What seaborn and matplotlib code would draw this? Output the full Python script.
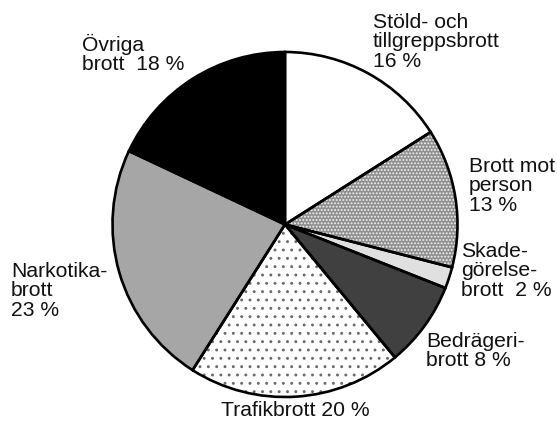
import matplotlib
matplotlib.use("Agg")
import matplotlib.pyplot as plt
from matplotlib.patches import Wedge
import seaborn as sns

# ---- data ----
categories = ["Stöld- och tillgreppsbrott", "Brott mot person", "Skadegörelsebrott",
              "Bedrägeribrott", "Trafikbrott", "Narkotikabrott", "Övriga brott"]
shares = [16, 13, 2, 8, 20, 23, 18]
labels = ["Stöld- och\ntillgreppsbrott\n16 %", "Brott mot\nperson\n13 %",
          "Skade-\ngörelse-\nbrott  2 %", "Bedrägeri-\nbrott 8 %",
          "Trafikbrott 20 %", "Narkotika-\nbrott\n23 %", "Övriga\nbrott  18 %"]

# ---- style ----
fill_colors = ["#ffffff", "#8f8f8f", "#e0e0e0", "#404040", "#ffffff", "#a6a6a6", "#000000"]
hatches = [None, ".....", None, None, "..", None, None]
hatch_colors = [None, "#f4f4f4", None, None, "#6a6a6a", None, None]
label_pos = [(373, 13), (469, 157), (461, 242), (426, 332), (221, 401), (11, 262), (82, 34)]

sns.set_theme(style="white")
plt.rcParams["font.family"] = ["Liberation Sans", "DejaVu Sans"]
plt.rcParams["hatch.linewidth"] = 0.9

W, H = 557, 421
fig = plt.figure(figsize=(W / 100, H / 100), dpi=100)
ax = fig.add_axes([0, 0, 1, 1])

cx, cy, r = 285, H - 224.5, 172.5
wedges, _ = ax.pie(shares, colors=fill_colors, startangle=90, counterclock=False,
                   center=(cx, cy), radius=r,
                   wedgeprops=dict(edgecolor="black", linewidth=0))

for w, hz, hc in zip(wedges, hatches, hatch_colors):
    if hz:
        ax.add_patch(Wedge((cx, cy), r, w.theta1, w.theta2, facecolor="none",
                           edgecolor=hc, linewidth=0, hatch=hz, zorder=2))
for w in wedges:
    ax.add_patch(Wedge((cx, cy), r, w.theta1, w.theta2, fill=False,
                       edgecolor="black", linewidth=1.9, zorder=3,
                       joinstyle="miter"))

for lab, (x, y) in zip(labels, label_pos):
    ax.text(x, H - y, lab, ha="left", va="top", fontsize=15.2,
            linespacing=1.02, color="#111111")

ax.set_xlim(0, W)
ax.set_ylim(0, H)
ax.set_aspect("equal")
ax.axis("off")
fig.savefig("out.png", dpi=100)
